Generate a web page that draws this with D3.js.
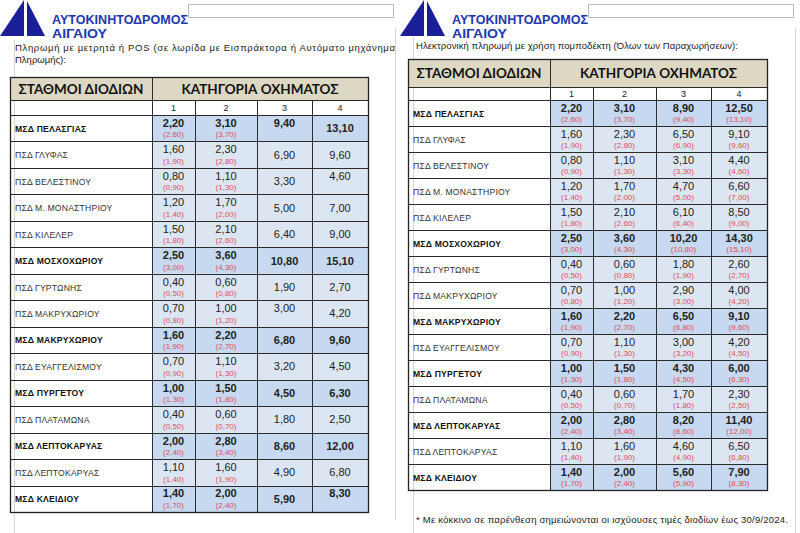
<!DOCTYPE html>
<html>
<head>
<meta charset="utf-8">
<script src="https://cdn.jsdelivr.net/npm/d3@7"></script>
<style>
  body { margin: 0; background: #fff; }
  svg { display: block; }
</style>
</head>
<body>
<div id="chart"></div>
<script>
// station names, MSD rows are the bold ones
var stations = ["ΜΣΔ ΠΕΛΑΣΓΙΑΣ", "ΠΣΔ ΓΛΥΦΑΣ", "ΠΣΔ ΒΕΛΕΣΤΙΝΟΥ", "ΠΣΔ Μ. ΜΟΝΑΣΤΗΡΙΟΥ", "ΠΣΔ ΚΙΛΕΛΕΡ",
    "ΜΣΔ ΜΟΣΧΟΧΩΡΙΟΥ", "ΠΣΔ ΓΥΡΤΩΝΗΣ", "ΠΣΔ ΜΑΚΡΥΧΩΡΙΟΥ", "ΜΣΔ ΜΑΚΡΥΧΩΡΙΟΥ", "ΠΣΔ ΕΥΑΓΓΕΛΙΣΜΟΥ",
    "ΜΣΔ ΠΥΡΓΕΤΟΥ", "ΠΣΔ ΠΛΑΤΑΜΩΝΑ", "ΜΣΔ ΛΕΠΤΟΚΑΡΥΑΣ", "ΠΣΔ ΛΕΠΤΟΚΑΡΥΑΣ", "ΜΣΔ ΚΛΕΙΔΙΟΥ"]
var categories = ["1", "2", "3", "4"]

// cash / POS prices (left)
var cashCat1 = [2.20, 1.60, 0.80, 1.20, 1.50, 2.50, 0.40, 0.70, 1.60, 0.70, 1.00, 0.40, 2.00, 1.10, 1.40]
var cashCat2 = [3.10, 2.30, 1.10, 1.70, 2.10, 3.60, 0.60, 1.00, 2.20, 1.10, 1.50, 0.60, 2.80, 1.60, 2.00]
var cashCat3 = [9.40, 6.90, 3.30, 5.00, 6.40, 10.80, 1.90, 3.00, 6.80, 3.20, 4.50, 1.80, 8.60, 4.90, 5.90]
var cashCat4 = [13.10, 9.60, 4.60, 7.00, 9.00, 15.10, 2.70, 4.20, 9.60, 4.50, 6.30, 2.50, 12.00, 6.80, 8.30]
var cashOldCat1 = [2.60, 1.90, 0.90, 1.40, 1.80, 3.00, 0.50, 0.80, 1.90, 0.90, 1.30, 0.50, 2.40, 1.40, 1.70]
var cashOldCat2 = [3.70, 2.80, 1.30, 2.00, 2.60, 4.30, 0.80, 1.20, 2.70, 1.30, 1.80, 0.70, 3.40, 1.90, 2.40]

// transponder prices (right)
var tagCat1 = [2.20, 1.60, 0.80, 1.20, 1.50, 2.50, 0.40, 0.70, 1.60, 0.70, 1.00, 0.40, 2.00, 1.10, 1.40]
var tagCat2 = [3.10, 2.30, 1.10, 1.70, 2.10, 3.60, 0.60, 1.00, 2.20, 1.10, 1.50, 0.60, 2.80, 1.60, 2.00]
var tagCat3 = [8.90, 6.50, 3.10, 4.70, 6.10, 10.20, 1.80, 2.90, 6.50, 3.00, 4.30, 1.70, 8.20, 4.60, 5.60]
var tagCat4 = [12.50, 9.10, 4.40, 6.60, 8.50, 14.30, 2.60, 4.00, 9.10, 4.20, 6.00, 2.30, 11.40, 6.50, 7.90]
var tagOldCat1 = [2.60, 1.90, 0.90, 1.40, 1.80, 3.00, 0.50, 0.80, 1.90, 0.90, 1.30, 0.50, 2.40, 1.40, 1.70]
var tagOldCat2 = [3.70, 2.80, 1.30, 2.00, 2.60, 4.30, 0.80, 1.20, 2.70, 1.30, 1.80, 0.70, 3.40, 1.90, 2.40]
var tagOldCat3 = [9.40, 6.90, 3.30, 5.00, 6.40, 10.80, 1.90, 3.00, 6.80, 3.20, 4.50, 1.80, 8.60, 4.90, 5.90]
var tagOldCat4 = [13.10, 9.60, 4.60, 7.00, 9.00, 15.10, 2.70, 4.20, 9.60, 4.50, 6.30, 2.50, 12.00, 6.80, 8.30]

var width = 800
var height = 533

var locale = d3.formatLocale({ decimal: ",", thousands: ".", grouping: [3], currency: ["", "€"] })
var fmt = locale.format(".2f")

var svg = d3.select("#chart").append("svg")
    .attr("width", width)
    .attr("height", height)
    .style("font-family", "'Liberation Sans', Arial, sans-serif")

svg.append("rect").attr("width", width).attr("height", height).attr("fill", "#fff")

var headFont = "Lato, 'Liberation Sans', sans-serif"

// page frame lines
function vline(x, y1, y2) {
    svg.append("line").attr("x1", x).attr("x2", x).attr("y1", y1).attr("y2", y2)
        .attr("stroke", "#d4d4d4").attr("stroke-width", 1)
}
vline(14.5, 40, 533)
vline(395.5, 28, 520)
vline(413.5, 37, 533)
vline(795.5, 28, 533)

function drawLogo(x0) {
    var g = svg.append("g").attr("transform", "translate(" + x0 + ",0)")
    g.append("path").attr("d", "M0,36 L24,0 L24,36 Z").attr("fill", "#1b1f97")
    g.append("path").attr("d", "M27,1 L45,36 L27,36 Z").attr("fill", "#1b1f97")
    g.append("text").attr("x", 52).attr("y", 24)
        .attr("font-weight", "bold").attr("font-size", 12.5)
        .attr("textLength", 136).attr("lengthAdjust", "spacingAndGlyphs")
        .attr("fill", "#2238b0").text("ΑΥΤΟΚΙΝΗΤΟΔΡΟΜΟΣ")
    g.append("text").attr("x", 52).attr("y", 38)
        .attr("font-weight", "bold").attr("font-size", 13)
        .attr("textLength", 55).attr("lengthAdjust", "spacingAndGlyphs")
        .attr("fill", "#2238b0").text("ΑΙΓΑΙΟΥ")
    g.append("rect").attr("x", 188.5).attr("y", 4.5).attr("width", 205).attr("height", 13)
        .attr("fill", "#fff").attr("stroke", "#bdbdbd")
}
drawLogo(0)
drawLogo(400)

function para(x, y, txt, len) {
    var t = svg.append("text").attr("x", x).attr("y", y)
        .attr("font-size", 9.5).attr("fill", "#222").text(txt)
    if (len) t.attr("textLength", len).attr("lengthAdjust", "spacing")
}
para(15, 51, "Πληρωμή με μετρητά ή POS (σε λωρίδα με Εισπράκτορα ή Αυτόματο μηχάνημα", 380)
para(15, 63, "Πληρωμής):")
para(416, 49, "Ηλεκτρονική πληρωμή με χρήση πομποδέκτη (Όλων των Παραχωρήσεων):", 322)
para(416, 523, "* Με κόκκινο σε παρένθεση σημειώνονται οι ισχύουσες τιμές διοδίων έως 30/9/2024.", 372)

function drawTable(cfg) {
    var g = svg.append("g")
    var x0 = cfg.left
    var nameRight = cfg.edges[0]
    var right = cfg.edges[cfg.edges.length - 1]

    var colX = d3.scaleOrdinal().domain(categories).range(cfg.edges.slice(0, 4))
    var colW = d3.scaleOrdinal().domain(categories).range(d3.pairs(cfg.edges).map(function (p) { return p[1] - p[0]; }))
    var y = d3.scaleBand().domain(d3.range(stations.length)).range([cfg.rowTop, cfg.rowBottom])

    // header row
    g.append("rect").attr("x", x0).attr("y", cfg.headTop).attr("width", right - x0)
        .attr("height", cfg.subTop - cfg.headTop).attr("fill", "#ddd8c3")
    g.append("text").attr("x", (x0 + nameRight) / 2).attr("y", (cfg.headTop + cfg.subTop) / 2 + 5)
        .attr("text-anchor", "middle").attr("font-family", headFont).attr("font-weight", "bold")
        .attr("font-size", 13.5).attr("fill", "#111").text("ΣΤΑΘΜΟΙ ΔΙΟΔΙΩΝ")
    g.append("text").attr("x", (nameRight + right) / 2).attr("y", (cfg.headTop + cfg.subTop) / 2 + 5)
        .attr("text-anchor", "middle").attr("font-family", headFont).attr("font-weight", "bold")
        .attr("font-size", 13.5).attr("fill", "#111").text("ΚΑΤΗΓΟΡΙΑ ΟΧΗΜΑΤΟΣ")

    // category numbers
    g.selectAll(".cat").data(categories).enter().append("text")
        .attr("x", function (c) { return colX(c) + colW(c) / 2; })
        .attr("y", (cfg.subTop + cfg.rowTop) / 2 + 3.5)
        .attr("text-anchor", "middle").attr("font-size", 9).attr("fill", "#222")
        .text(function (c) { return c; })

    var rows = g.selectAll(".row").data(stations).enter().append("g")
        .attr("transform", function (d, i) { return "translate(0," + y(i) + ")"; })

    rows.append("text").attr("x", x0 + 5).attr("y", y.bandwidth() / 2 + 3.5)
        .attr("font-size", 8.6)
        .attr("font-weight", function (d) { return d.indexOf("ΜΣΔ") === 0 ? "bold" : "normal"; })
        .attr("fill", function (d) { return d.indexOf("ΜΣΔ") === 0 ? "#111" : "#333"; })
        .attr("letter-spacing", 0.2)
        .text(function (d) { return d; })

    categories.forEach(function (c, ci) {
        var vals = cfg.values[ci]
        var olds = cfg.olds[ci]
        rows.append("rect")
            .attr("x", colX(c)).attr("y", 0).attr("width", colW(c)).attr("height", y.bandwidth())
            .attr("fill", function (d) { return d.indexOf("ΜΣΔ") === 0 ? "#c6d9f0" : "#dce6f2"; })
        rows.append("text")
            .attr("x", colX(c) + colW(c) / 2)
            .attr("y", function (d, i) {
                var raised = olds || cfg.raised.some(function (r) { return r[0] === i && r[1] === ci; })
                return raised ? y.bandwidth() * 0.45 : y.bandwidth() / 2 + 4
            })
            .attr("text-anchor", "middle").attr("font-size", 11)
            .attr("font-weight", function (d) { return d.indexOf("ΜΣΔ") === 0 ? "bold" : "normal"; })
            .attr("fill", "#222")
            .text(function (d, i) { return fmt(vals[i]); })
        if (olds) {
            rows.append("text")
                .attr("x", colX(c) + colW(c) / 2)
                .attr("y", y.bandwidth() * 0.85)
                .attr("text-anchor", "middle").attr("font-size", 8).attr("fill", "#e44a55")
                .text(function (d, i) { return "(" + fmt(olds[i]) + ")"; })
        }
    })

    // grid lines
    var lines = g.append("g").attr("stroke", "#2b2b2b").attr("stroke-width", 1)
    var hs = [cfg.headTop, cfg.subTop, cfg.rowTop].concat(d3.range(stations.length).map(function (i) { return y(i) + y.bandwidth(); }))
    hs.forEach(function (h) {
        lines.append("line").attr("x1", x0).attr("x2", right)
            .attr("y1", Math.round(h) + 0.5).attr("y2", Math.round(h) + 0.5)
    })
    var bottom = Math.round(cfg.rowBottom) + 0.5
    ;[x0].concat(cfg.edges).forEach(function (xe, k) {
        var top = (k >= 2 && k <= 4) ? cfg.subTop : cfg.headTop
        lines.append("line").attr("x1", xe + 0.5).attr("x2", xe + 0.5)
            .attr("y1", top).attr("y2", bottom)
    })
    // outer frame a bit heavier
    g.append("rect").attr("x", x0 + 0.5).attr("y", cfg.headTop + 0.5)
        .attr("width", right - x0).attr("height", bottom - cfg.headTop - 0.5)
        .attr("fill", "none").attr("stroke", "#222").attr("stroke-width", 1.3)
}

drawTable({
    left: 10,
    edges: [152, 195, 257, 312, 368],
    headTop: 77, subTop: 100, rowTop: 115, rowBottom: 512,
    values: [cashCat1, cashCat2, cashCat3, cashCat4],
    olds: [cashOldCat1, cashOldCat2, null, null],
    raised: [[0, 2], [2, 3], [7, 2], [14, 3]]
})

drawTable({
    left: 408,
    edges: [550, 593, 656, 711, 767],
    headTop: 59, subTop: 87, rowTop: 100, rowBottom: 490,
    values: [tagCat1, tagCat2, tagCat3, tagCat4],
    olds: [tagOldCat1, tagOldCat2, tagOldCat3, tagOldCat4],
    raised: []
})
</script>
</body>
</html>
